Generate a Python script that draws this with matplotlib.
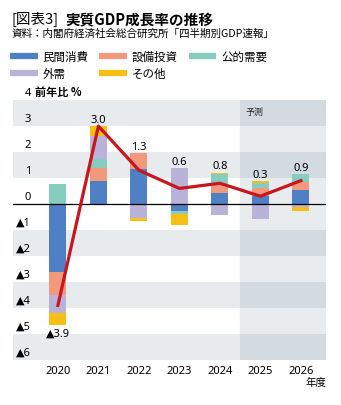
import matplotlib
matplotlib.use("Agg")
import matplotlib.pyplot as plt
import numpy as np
from matplotlib.lines import Line2D

plt.rcParams['font.family'] = ['Noto Sans CJK JP', 'DejaVu Sans']
FAM_NUM = ['Noto Sans', 'DejaVu Sans']  # ▲ menor que o da fonte CJK

# --- Dados ---
anos = ['2020', '2021', '2022', '2023', '2024', '2025', '2026']
minkan = [-2.6, 0.9, 1.35, -0.25, 0.41, 0.32, 0.55]      # 民間消費
setsubi = [-0.9, 0.5, 0.6, 0.0, 0.36, 0.3, 0.31]         # 設備投資
koteki = [0.77, 0.35, 0.0, -0.15, 0.37, 0.18, 0.29]      # 公的需要
gaiju = [-0.7, 0.85, -0.52, 1.38, -0.42, -0.57, -0.1]    # 外需
sonota = [-0.47, 0.4, -0.12, -0.4, 0.06, 0.07, -0.15]    # その他
gdp = [-3.9, 3.0, 1.3, 0.6, 0.8, 0.3, 0.9]
rotulos_gdp = ['▲3.9', '3.0', '1.3', '0.6', '0.8', '0.3', '0.9']
yticks = [-6, -5, -4, -3, -2, -1, 0, 1, 2, 3]
ytick_labels = ['▲6', '▲5', '▲4', '▲3', '▲2', '▲1', '0', '1', '2', '3']
faixas_cinza = [(3, 4), (1, 2), (-2, -1), (-4, -3), (-6, -5)]

series = [
    ('民間消費', minkan, '#4f7fc4'),
    ('設備投資', setsubi, '#f2987c'),
    ('公的需要', koteki, '#86ccbf'),
    ('外需', gaiju, '#b9b3da'),
    ('その他', sonota, '#f7be14'),
]

fig = plt.figure(figsize=(3.41, 4.06), dpi=100)
ax = fig.add_axes([0.038, 0.111, 0.918, 0.640])
x = np.arange(len(anos))
xmin, xmax = -1.11, 6.62
ax.set_xlim(xmin, xmax)
ax.set_ylim(-6, 4)

# --- Fundo ---
ax.axvspan(xmin, 4.5, color='white', zorder=0)
ax.axvspan(4.5, xmax, color='#e9ecee', zorder=0)
for y0, y1 in faixas_cinza:
    ax.fill_between([xmin, 4.5], y0, y1, color='#e8ebee', lw=0, zorder=0.5)
    ax.fill_between([4.5, xmax], y0, y1, color='#d4dbe0', lw=0, zorder=0.5)
ax.text(4.64, 3.55, '予測', fontsize=6.5, va='center', ha='left', color='#222222')

# --- Barras empilhadas ---
pos = np.zeros(len(anos))
neg = np.zeros(len(anos))
for nome, vals, cor in series:
    v = np.array(vals)
    base = np.where(v >= 0, pos, neg)
    ax.bar(x, v, bottom=base, width=0.42, color=cor, lw=0, zorder=2)
    pos = pos + np.where(v >= 0, v, 0)
    neg = neg + np.where(v < 0, v, 0)

ax.axhline(0, color='black', lw=0.9, zorder=3)
ax.plot(x, gdp, color='#c8161e', lw=2.3, zorder=4)

for i, r in enumerate(rotulos_gdp):
    if gdp[i] < 0:
        ax.annotate(r, (x[i], neg[i]), xytext=(0, -1.5), textcoords='offset points',
                    ha='center', va='top', fontsize=8, family=FAM_NUM, zorder=5)
    else:
        ax.annotate(r, (x[i], pos[i]), xytext=(0, 1), textcoords='offset points',
                    ha='center', va='bottom', fontsize=8, family=FAM_NUM, zorder=5)

# --- Eixo Y (rótulos dentro da área) ---
lx = xmin + (31 - 13) / 40.5
for yv, lab in zip(yticks, ytick_labels):
    ax.text(lx, yv + 0.08, lab, ha='right', va='bottom', fontsize=8, family=FAM_NUM)
ax.text(lx, 4.08, '4', ha='right', va='bottom', fontsize=8, family=FAM_NUM, clip_on=False)
ax.text(lx + 0.1, 4.08, '前年比 %', ha='left', va='bottom', fontsize=8,
        fontweight='bold', clip_on=False)

ax.set_xticks(x)
ax.set_xticklabels(anos, fontsize=8, family=FAM_NUM)
ax.tick_params(axis='x', length=0, pad=4)
ax.set_yticks([])
for s in ax.spines.values():
    s.set_visible(False)
ax.text(1.0, -0.086, '年度', transform=ax.transAxes, ha='right', va='center', fontsize=7.5)

# --- Títulos ---
fig.text(0.035, 0.952, '[図表3]', fontsize=10.5, va='center', ha='left')
fig.text(0.193, 0.952, '実質GDP成長率の推移', fontsize=10.5, fontweight='bold', va='center', ha='left')
fig.text(0.035, 0.916, '資料：内閣府経済社会総合研究所「四半期別GDP速報」', fontsize=7.6,
         va='center', ha='left')

# --- Legenda ---
ordem = [0, 3, 1, 4, 2]
handles = [Line2D([], [], color=series[i][2], lw=4.5, solid_capstyle='butt') for i in ordem]
labels = [series[i][0] for i in ordem]
fig.legend(handles, labels, ncol=3, loc='upper left', bbox_to_anchor=(0.03, 0.875),
           frameon=False, fontsize=8.3, handlelength=2.4, handletextpad=0.4,
           columnspacing=0.95, labelspacing=0.35, borderaxespad=0, borderpad=0)

fig.savefig('out.png', dpi=100)
